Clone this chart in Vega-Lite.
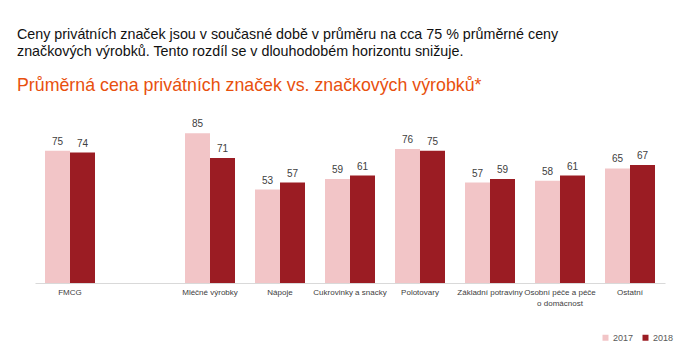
{
  "$schema": "https://vega.github.io/schema/vega-lite/v6.json",
  "width": 630,
  "height": 163,
  "autosize": {"type": "none"},
  "padding": {"left": 35, "top": 120, "right": 35, "bottom": 76},
  "background": "white",
  "title": {
    "text": ["Ceny privátních značek jsou v současné době v průměru na cca 75 % průměrné ceny", "značkových výrobků. Tento rozdíl se v dlouhodobém horizontu snižuje."],
    "subtitle": "Průměrná cena privátních značek vs. značkových výrobků*",
    "anchor": "start",
    "frame": "group",
    "dx": -18,
    "offset": 24.5,
    "font": "Liberation Sans",
    "fontSize": 14.3,
    "fontWeight": "normal",
    "lineHeight": 17,
    "color": "#111111",
    "subtitleFont": "Liberation Sans",
    "subtitleFontSize": 17.8,
    "subtitleColor": "#E8500E",
    "subtitlePadding": 18
  },
  "data": {
    "values": [
      {"kategorie": "FMCG", "rok": "2017", "hodnota": 75},
      {"kategorie": "FMCG", "rok": "2018", "hodnota": 74},
      {"kategorie": "Mléčné výrobky", "rok": "2017", "hodnota": 85},
      {"kategorie": "Mléčné výrobky", "rok": "2018", "hodnota": 71},
      {"kategorie": "Nápoje", "rok": "2017", "hodnota": 53},
      {"kategorie": "Nápoje", "rok": "2018", "hodnota": 57},
      {"kategorie": "Cukrovinky a snacky", "rok": "2017", "hodnota": 59},
      {"kategorie": "Cukrovinky a snacky", "rok": "2018", "hodnota": 61},
      {"kategorie": "Polotovary", "rok": "2017", "hodnota": 76},
      {"kategorie": "Polotovary", "rok": "2018", "hodnota": 75},
      {"kategorie": "Základní potraviny", "rok": "2017", "hodnota": 57},
      {"kategorie": "Základní potraviny", "rok": "2018", "hodnota": 59},
      {"kategorie": "Osobní péče a péče|o domácnost", "rok": "2017", "hodnota": 58},
      {"kategorie": "Osobní péče a péče|o domácnost", "rok": "2018", "hodnota": 61},
      {"kategorie": "Ostatní", "rok": "2017", "hodnota": 65},
      {"kategorie": "Ostatní", "rok": "2018", "hodnota": 67}
    ]
  },
  "encoding": {
    "x": {
      "field": "kategorie",
      "type": "nominal",
      "scale": {
        "domain": ["FMCG", " ", "Mléčné výrobky", "Nápoje", "Cukrovinky a snacky", "Polotovary", "Základní potraviny", "Osobní péče a péče|o domácnost", "Ostatní"],
        "paddingInner": 0.2857,
        "paddingOuter": 0.1429
      },
      "axis": {
        "title": null,
        "labelAngle": 0,
        "labelExpr": "split(datum.value, '|')",
        "labelFont": "Liberation Sans",
        "labelFontSize": 8,
        "labelColor": "#404040",
        "labelPadding": 5,
        "labelLineHeight": 11,
        "ticks": false,
        "domainColor": "#D9D9D9",
        "domainWidth": 1
      }
    },
    "xOffset": {"field": "rok", "type": "nominal"},
    "y": {
      "field": "hodnota",
      "type": "quantitative",
      "scale": {"domain": [0, 92.5]},
      "axis": null
    }
  },
  "layer": [
    {
      "mark": {"type": "bar"},
      "encoding": {
        "color": {
          "field": "rok",
          "type": "nominal",
          "scale": {"domain": ["2017", "2018"], "range": ["#F2C5C7", "#9B1C23"]},
          "legend": {
            "title": null,
            "orient": "none",
            "direction": "horizontal",
            "legendX": 566,
            "legendY": 213,
            "symbolType": "square",
            "symbolSize": 36,
            "symbolStrokeWidth": 0,
            "labelFont": "Liberation Sans",
            "labelFontSize": 9,
            "labelColor": "#595959",
            "labelOffset": 3,
            "columnPadding": 7
          }
        }
      }
    },
    {
      "mark": {"type": "text", "baseline": "bottom", "dy": -4, "font": "Liberation Sans", "fontSize": 10, "color": "#404040"},
      "encoding": {"text": {"field": "hodnota", "type": "quantitative"}}
    }
  ],
  "config": {"view": {"stroke": null}}
}
